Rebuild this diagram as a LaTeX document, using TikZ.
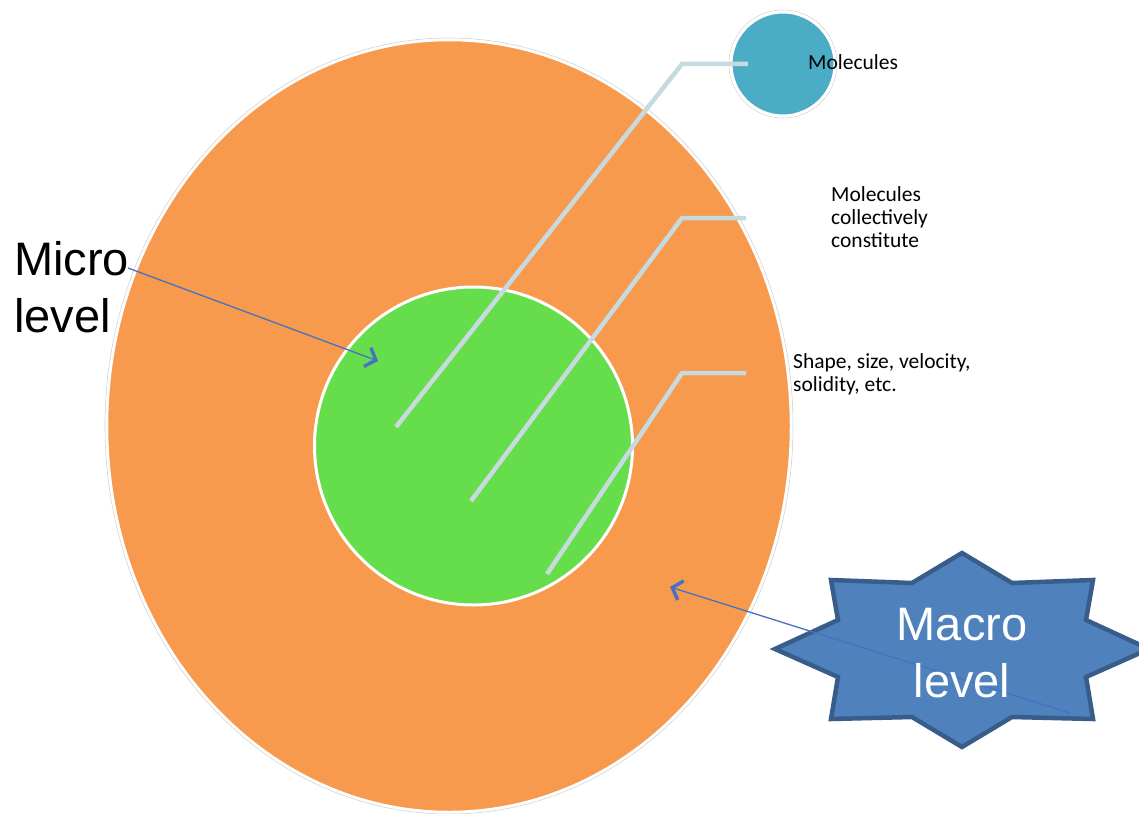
\documentclass[tikz,border=0pt]{standalone}
\usepackage{fontspec}
\setmainfont{Liberation Sans}
\newfontfamily\calib{Carlito}
\usetikzlibrary{arrows.meta,shapes.geometric}
\definecolor{orangefill}{HTML}{F79A4D}
\definecolor{greenfill}{HTML}{66DE4C}
\definecolor{bluefill}{HTML}{4BACC6}
\definecolor{leader}{HTML}{C6DAE0}
\definecolor{arrowblue}{HTML}{4472C4}
\definecolor{starfill}{HTML}{4F81BD}
\definecolor{starline}{HTML}{385D8A}
\begin{document}
\begin{tikzpicture}[x=1pt,y=-1pt,
  leaderline/.style={draw=leader, line width=4.5pt, line join=miter},
  smalltext/.style={font=\calib\fontsize{21.5}{23}\selectfont, align=left, anchor=base west, inner sep=0pt},
  bigtext/.style={font=\fontsize{47}{57}\selectfont, inner sep=0pt},
  pointer/.style={draw=arrowblue, line width=1.3pt, -{Straight Barb[length=9pt,width=20pt,line width=3.4pt]}},
  ring/.style={draw=gray!35, line width=0.6pt}]
\useasboundingbox (0,0) rectangle (1139,813);
\clip (0,0) rectangle (1139,813);
\fill[white] (0,0) rectangle (1139,813);
% outer ellipse (macro level)
\node[ellipse, ring, minimum width=688pt, minimum height=776pt, inner sep=0pt] (outerring) at (449,426) {};
\node[ellipse, fill=orangefill, draw=white, line width=2.5pt, minimum width=684pt, minimum height=772pt, inner sep=0pt] (outer) at (449,426) {};
% inner circle (micro level)
\node[circle, fill=greenfill, draw=white, line width=3pt, minimum size=318pt, inner sep=0pt] (inner) at (473.5,446) {};
% molecules circle
\node[circle, ring, minimum size=108pt, inner sep=0pt] (molring) at (783,64) {};
\node[circle, fill=bluefill, draw=white, line width=3pt, minimum size=104pt, inner sep=0pt] (mol) at (783,64) {};
% leader lines
\coordinate (l1a) at (396,427);
\coordinate (l1b) at (682,64);
\coordinate (l1c) at (748,64);
\coordinate (l2a) at (471,501);
\coordinate (l2b) at (682,218);
\coordinate (l2c) at (746,218);
\coordinate (l3a) at (547,574);
\coordinate (l3b) at (682,373);
\coordinate (l3c) at (746,373);
\draw[leaderline] (l1a) -- (l1b) -- (l1c);
\draw[leaderline] (l2a) -- (l2b) -- (l2c);
\draw[leaderline] (l3a) -- (l3b) -- (l3c);
% texts
\node[smalltext] (t1) at (808,70) {Molecules};
\node[smalltext] (t2) at (831,247) {Molecules\\collectively\\constitute};
\node[smalltext] (t3) at (793,391) {Shape, size, velocity,\\solidity, etc.};
% micro label
\node[bigtext, align=left, anchor=base west] (microlabel) at (14,332) {Micro\\level};
\coordinate (microstart) at (128,268);
\coordinate (microtip) at (378,361);
\draw[pointer] (microstart) -- (microtip);
% star
\draw[fill=starfill, draw=starline, line width=4.5pt, line join=miter]
  (962,553) -- (1012,583) -- (1093,580) -- (1086,620) -- (1149,649) -- (1086,677) -- (1093,719) -- (1012,717)
  -- (962,747) -- (912,717) -- (831,719) -- (838,677) -- (775,649) -- (838,620) -- (831,580) -- (912,583) -- cycle;
\coordinate (macrostart) at (1070,713);
\coordinate (macrotip) at (670,587);
\draw[pointer] (macrostart) -- (macrotip);
\node[bigtext, align=center, anchor=base, text=white] (macrolabel) at (962,697) {Macro\\level};
\end{tikzpicture}
\end{document}
